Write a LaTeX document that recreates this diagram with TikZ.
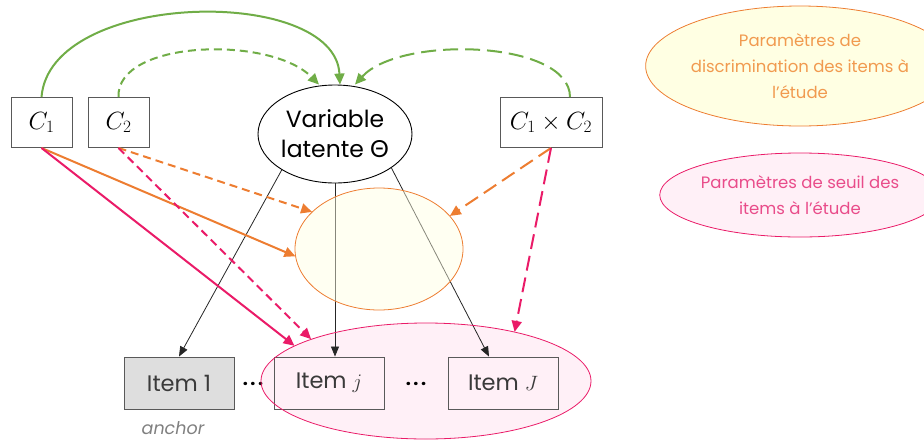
\documentclass[tikz,border=0pt]{standalone}
\usepackage{fontspec}
\setmainfont{Poppins}
\newfontfamily\gk{Lato}
\usetikzlibrary{arrows.meta,calc,shapes.geometric}
\definecolor{cgreen}{HTML}{70AD47}
\definecolor{corange}{HTML}{ED7D31}
\definecolor{cpink}{HTML}{EA1B68}
\definecolor{lorange}{HTML}{F19A4F}
\definecolor{lpink}{HTML}{E94C8A}
\definecolor{yfill}{HTML}{FFFFE3}
\definecolor{pfill}{HTML}{FFF0F7}
\definecolor{bgray}{HTML}{595959}
\definecolor{tgray}{HTML}{3A3A3A}
\tikzset{
  cbox/.style={draw=bgray,fill=white,line width=0.9pt,inner sep=0pt,minimum width=61pt,minimum height=50pt,font=\fontsize{26}{28}\selectfont},
  itembox/.style={draw=bgray,line width=0.9pt,inner sep=0pt,minimum width=110pt,minimum height=52pt,text=tgray,font=\fontsize{22.5}{24}\selectfont},
  ell/.style={ellipse,inner sep=0pt},
  tipbig/.style={-{Triangle[length=11pt,width=10pt]}},
  tipsmall/.style={-{Triangle[length=10pt,width=8pt]}},
  gline/.style={cgreen,line width=2pt,tipbig},
  oline/.style={corange,line width=2pt,tipbig},
  pline/.style={cpink,line width=2pt,tipbig},
  kline/.style={black!85,line width=0.8pt,tipsmall},
  shortdash/.style={dash pattern=on 8pt off 5pt},
  longdash/.style={dash pattern=on 15pt off 7pt},
  dots/.style={inner sep=0pt,text=black,font=\bfseries\fontsize{18}{20}\selectfont},
}
\begin{document}
\begin{tikzpicture}[x=1pt,y=-1pt]
\useasboundingbox (0,0) rectangle (924,440);
% legend
\node[ell,draw=corange,fill=yfill,line width=0.8pt,minimum width=248pt,minimum height=120pt,align=center,text=lorange,font=\fontsize{16.5}{26}\selectfont] (legA) at (800,66) {Paramètres de\\discrimination des items à\\l’étude};
\node[ell,draw=cpink,fill=pfill,line width=0.8pt,minimum width=246pt,minimum height=84pt,align=center,text=lpink,font=\fontsize{16.5}{26}\selectfont] (legB) at (800,195) {Paramètres de seuil des\\items à l’étude};
% pink ellipse fill (under items)
\fill[pfill] (426,381) ellipse [x radius=165pt,y radius=58pt];
% main nodes
\node[cbox] (c1) at (41.5,122.5) {$C_1$};
\node[cbox] (c2) at (118.5,122.5) {$C_2$};
\node[cbox,minimum width=102pt] (c12) at (551,122.5) {$C_1\times C_2$};
\node[ell,draw=black,fill=white,line width=0.9pt,minimum width=154pt,minimum height=98pt,align=center,font=\fontsize{23.5}{30}\selectfont] (lat) at (335,134) {Variable\\latente {\gk Θ}};
\node[itembox,fill=black!13] (i1) at (179,383) {Item 1};
\node[itembox] (ij) at (329,383) {Item $j$};
\node[itembox] (iJ) at (503,383) {Item $J$};
\node[dots] (d1) at (253,384) {.\kern2.5pt.\kern2.5pt.};
\node[dots] (d2) at (416,384) {.\kern2.5pt.\kern2.5pt.};
\node[text=black!50,font=\itshape\fontsize{17.5}{20}\selectfont] (anc) at (173,428) {anchor};
% ellipses of parameters (shape only, for anchors)
\path node[ell,minimum width=168pt,minimum height=122pt] (yel) at (379,249) {};
\path node[ell,minimum width=330pt,minimum height=116pt] (pel) at (426,381) {};
% black arrows
\draw[kline] (lat.214.7) -- (i1.north);
\draw[kline] (lat.south) -- (lat.south |- ij.north);
\draw[kline] (lat.-31.8) -- ([xshift=-14pt]iJ.north);
% yellow ellipse over lines
\fill[yfill,fill opacity=0.45] (379,249) ellipse [x radius=84pt,y radius=61pt];
\draw[corange,line width=0.8pt] (379,249) ellipse [x radius=84pt,y radius=61pt];
% green arcs
\draw[gline] (c1.north) .. controls (50,-10) and (335,-15) .. ([xshift=5pt]lat.north);
\draw[gline,shortdash] (c2.north) .. controls (116,40) and (270,35) .. ([xshift=-16pt]lat.north);
\draw[gline,longdash] ([xshift=19pt]c12.north) .. controls (570,40) and (400,35) .. ([xshift=20pt]lat.north);
% orange
\draw[oline] (c1.south) -- (yel.185.4);
\draw[oline,shortdash] (c2.south) -- (yel.151);
\draw[oline,longdash] (c12.south) -- (yel.25);
% pink ellipse border
\draw[cpink,line width=0.8pt] (426,381) ellipse [x radius=165pt,y radius=58pt];
% pink
\draw[pline] (c1.south) -- (pel.165);
\draw[pline,shortdash] (c2.south) -- (pel.160.5);
\draw[pline,longdash] (c12.south) -- (pel.29);
\end{tikzpicture}
\end{document}
